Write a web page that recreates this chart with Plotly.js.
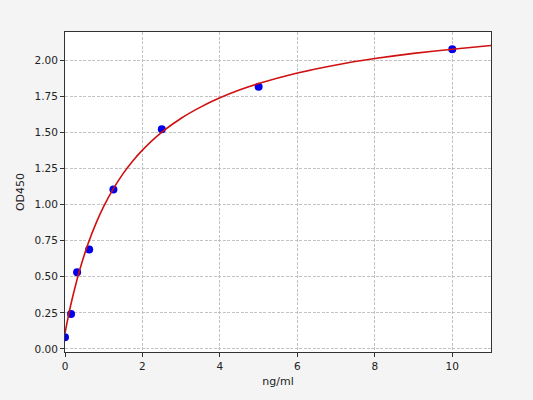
<!DOCTYPE html>
<html>
<head>
<meta charset="utf-8">
<script src="https://cdn.plot.ly/plotly-3.0.1.min.js"></script>
<style>
  html, body { margin: 0; padding: 0; background: #f4f4f4; }
  #chart { width: 533px; height: 400px; }
</style>
</head>
<body>
<div id="chart"></div>
<script>
// Standard points (concentration vs OD)
const stdConc = [0, 0.156, 0.3125, 0.625, 1.25, 2.5, 5, 10];
const stdOD   = [0.081, 0.243, 0.532, 0.689, 1.105, 1.521, 1.815, 2.076];

// Fitted curve
const fitConc = [0, 0.025, 0.05, 0.1, 0.15, 0.2, 0.3, 0.4, 0.6, 0.8, 1.0, 1.25, 1.5, 1.75, 2, 2.5, 3, 3.5, 4, 4.5, 5, 6, 7, 8, 9, 10, 11];
const fitOD   = [0.110, 0.145, 0.179, 0.244, 0.306, 0.363, 0.470, 0.566, 0.732, 0.870, 0.987, 1.110, 1.214, 1.302, 1.377, 1.501, 1.598, 1.675, 1.739, 1.793, 1.838, 1.911, 1.967, 2.011, 2.047, 2.076, 2.101];

const xTicks = [0, 2, 4, 6, 8, 10];
const yTicks = [0, 0.25, 0.5, 0.75, 1, 1.25, 1.5, 1.75, 2];

const traces = [
  {
    x: stdConc, y: stdOD,
    type: 'scatter', mode: 'markers',
    marker: { color: '#0000ee', size: 8 },
    hoverinfo: 'x+y',
  },
  {
    x: fitConc, y: fitOD,
    type: 'scatter', mode: 'lines',
    line: { color: '#d01010', width: 1.6, shape: 'spline', smoothing: 0.6 },
    hoverinfo: 'skip',
  },
];

const axisCommon = {
  showline: true, linecolor: '#333', linewidth: 1, mirror: true,
  ticks: 'outside', ticklen: 4, tickcolor: '#333',
  showgrid: true, gridcolor: '#b4b4b4', griddash: '3px,1.5px', gridwidth: 0.8,
  zeroline: false,
  tickfont: { family: 'DejaVu Sans', size: 10.5, color: '#222' },
};

const layout = {
  width: 533, height: 400,
  paper_bgcolor: '#f4f4f4',
  plot_bgcolor: '#ffffff',
  margin: { l: 65, r: 42, t: 32, b: 48 },
  showlegend: false,
  font: { family: 'DejaVu Sans', size: 10.5, color: '#222' },
  xaxis: Object.assign({}, axisCommon, {
    range: [0, 11],
    tickvals: xTicks,
    title: { text: 'ng/ml', font: { size: 11 }, standoff: 6 },
  }),
  yaxis: Object.assign({}, axisCommon, {
    range: [-0.021, 2.195],
    tickvals: yTicks,
    tickformat: '.2f',
    title: { text: 'OD450', font: { size: 11 }, standoff: 7 },
  }),
};

Plotly.newPlot('chart', traces, layout, { displayModeBar: false, staticPlot: true });
</script>
</body>
</html>
